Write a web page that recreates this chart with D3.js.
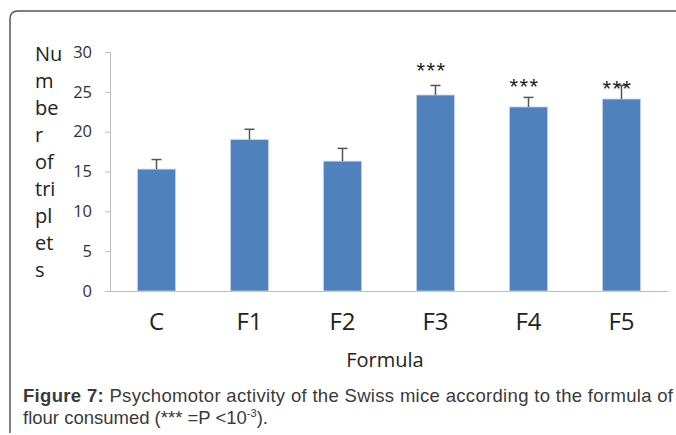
<!DOCTYPE html>
<html><head><meta charset="utf-8">
<script src="https://cdn.jsdelivr.net/npm/d3@7"></script>
<style>
body{margin:0;background:#fff;}
svg{display:block;}
</style></head>
<body>
<svg id="chart" width="676" height="435"></svg>
<script>
const categories = ["C","F1","F2","F3","F4","F5"];
const values = [15.3, 19.0, 16.3, 24.6, 23.1, 24.1];
const errors = [1.2, 1.3, 1.6, 1.2, 1.2, 1.7];
const significance = ["", "", "", "***", "***", "***"];
// height (in data units) at which each significance label is printed
const significanceLevel = [null, null, null, 28.3, 26.3, 26.05];
const yTicks = [0,5,10,15,20,25,30];
const yTitleLines = ["Nu","m","be","r","of","tri","pl","et","s"];
const xTitle = "Formula";

const svg = d3.select("#chart");
const mLeft = 110, mRight = 668, mTop = 52, mBottom = 291;

// frame
svg.append("path")
  .attr("d", `M10,433 L10,19 Q10,11 18,11 L676,11`)
  .attr("fill","none").attr("stroke","#555").attr("stroke-width",1.5);

const x = d3.scaleBand().domain(categories).range([mLeft,mRight]).paddingInner(0.59).paddingOuter(0.295);
const y = d3.scaleLinear().domain([0,30]).range([mBottom,mTop]);

// y axis
const yAxis = svg.append("g").attr("transform",`translate(${mLeft},0)`)
  .call(d3.axisLeft(y).tickValues(yTicks).tickSize(5).tickPadding(13));
yAxis.select(".domain").attr("stroke","#bdbdbd");
yAxis.selectAll(".tick line").attr("stroke","#bdbdbd");
yAxis.selectAll(".tick text").attr("font-family","'Open Sans', sans-serif").attr("font-size",16.5).attr("fill","#333");

// x axis
const xAxis = svg.append("g").attr("transform",`translate(0,${mBottom})`)
  .call(d3.axisBottom(x).tickSize(0).tickPadding(22));
xAxis.select(".domain").attr("stroke","#bdbdbd");
xAxis.selectAll(".tick text").attr("font-family","'Open Sans', sans-serif").attr("font-size",24).attr("fill","#222");

// bars
svg.selectAll("rect.bar").data(categories).join("rect")
  .attr("class","bar")
  .attr("x",d=>x(d)).attr("width",x.bandwidth())
  .attr("y",(d,i)=>y(values[i])).attr("height",(d,i)=>y(0)-y(values[i]))
  .attr("fill","#4F81BD").attr("stroke","#c5d5ea").attr("stroke-width",0.8);

// error bars
const eb = svg.selectAll("g.err").data(categories).join("g").attr("class","err");
eb.append("line")
  .attr("x1",d=>x(d)+x.bandwidth()/2).attr("x2",d=>x(d)+x.bandwidth()/2)
  .attr("y1",(d,i)=>y(values[i])).attr("y2",(d,i)=>y(values[i]+errors[i]))
  .attr("stroke","#555").attr("stroke-width",1.5);
eb.append("line")
  .attr("x1",d=>x(d)+x.bandwidth()/2-5).attr("x2",d=>x(d)+x.bandwidth()/2+5)
  .attr("y1",(d,i)=>y(values[i]+errors[i])).attr("y2",(d,i)=>y(values[i]+errors[i]))
  .attr("stroke","#555").attr("stroke-width",1.5);

// significance
const sigSize = 22;
svg.selectAll("text.sig").data(categories).join("text")
  .attr("class","sig")
  .attr("x",d=>x(d)+x.bandwidth()/2-4)
  .attr("y",(d,i)=>significanceLevel[i]==null?0:y(significanceLevel[i])+0.57*sigSize)
  .attr("text-anchor","middle")
  .attr("letter-spacing",1.5)
  .attr("font-family","'Liberation Sans', Arial, sans-serif").attr("font-size",sigSize).attr("fill","#222")
  .text((d,i)=>significance[i]);

// y title
svg.append("text").attr("font-family","'Open Sans', sans-serif").attr("font-size",20).attr("fill","#222")
  .selectAll("tspan").data(yTitleLines).join("tspan")
  .attr("x",35).attr("y",(d,i)=>61+i*27).text(d=>d);

// x title
svg.append("text").attr("x",385).attr("y",367).attr("text-anchor","middle")
  .attr("font-family","'Open Sans', sans-serif").attr("font-size",20).attr("fill","#222").text(xTitle);

// caption
const cap = svg.append("g").attr("font-family","'Liberation Sans', Arial, sans-serif").attr("font-size",18.5).attr("fill","#3a3a3a");
const l1 = cap.append("text").attr("x",23).attr("y",401.5).attr("textLength",650).attr("lengthAdjust","spacing");
l1.append("tspan").attr("font-weight","bold").text("Figure 7:");
l1.append("tspan").text(" Psychomotor activity of the Swiss mice according to the formula of");
const l2 = cap.append("text").attr("x",23).attr("y",424);
l2.append("tspan").text("flour consumed (*** =P <10");
l2.append("tspan").attr("font-size",11).attr("dy",-7).text("-3");
l2.append("tspan").attr("dy",7).text(").");
</script>
</body></html>
